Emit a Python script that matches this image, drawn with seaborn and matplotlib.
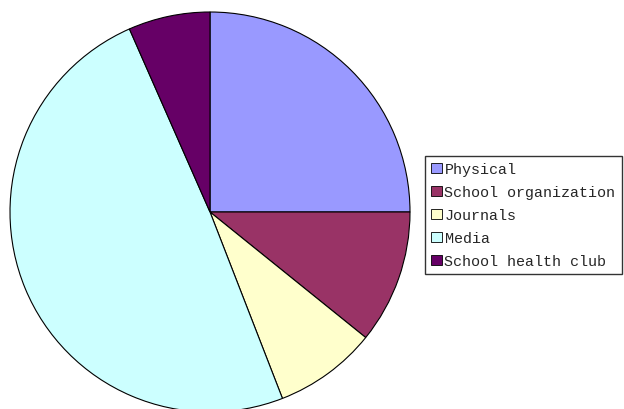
import matplotlib
matplotlib.use("Agg")
import matplotlib.pyplot as plt
import seaborn as sns

categories = ["Physical", "School organization", "Journals", "Media", "School health club"]
values = [25.0, 10.8, 8.3, 49.3, 6.6]
colors = ["#9999FF", "#993366", "#FFFFCC", "#CCFFFF", "#660066"]

sns.set_theme(style="white")
plt.rcParams["font.family"] = ["Liberation Mono", "DejaVu Sans Mono"]

fig = plt.figure(figsize=(6.24, 4.10), dpi=100)
fig.patch.set_facecolor("white")
ax = fig.add_axes([10/624, -3/410, 400/624, 400/410])
wedges, _ = ax.pie(values, colors=colors, startangle=90, counterclock=False,
                   radius=1.0, wedgeprops=dict(edgecolor="black", linewidth=0.8))
ax.set_xlim(-1, 1)
ax.set_ylim(-1, 1)
ax.set_aspect("equal")
ax.axis("off")
for w in wedges:
    w.set_clip_on(False)

leg = fig.legend(wedges, categories, loc="upper left",
                 bbox_to_anchor=(425/624, 1 - 157/410), borderaxespad=0,
                 frameon=True, fancybox=False, shadow=False,
                 prop={"family": ["Liberation Mono", "DejaVu Sans Mono"], "size": 10.8},
                 handlelength=0.7, handleheight=0.7, handletextpad=0.2,
                 labelspacing=0.6, borderpad=0.4)
leg.get_frame().set_edgecolor("black")
leg.get_frame().set_linewidth(1.0)
for h in leg.legend_handles:
    h.set_edgecolor("black")
    h.set_linewidth(0.6)

fig.savefig("out.png", dpi=100, facecolor="white")
